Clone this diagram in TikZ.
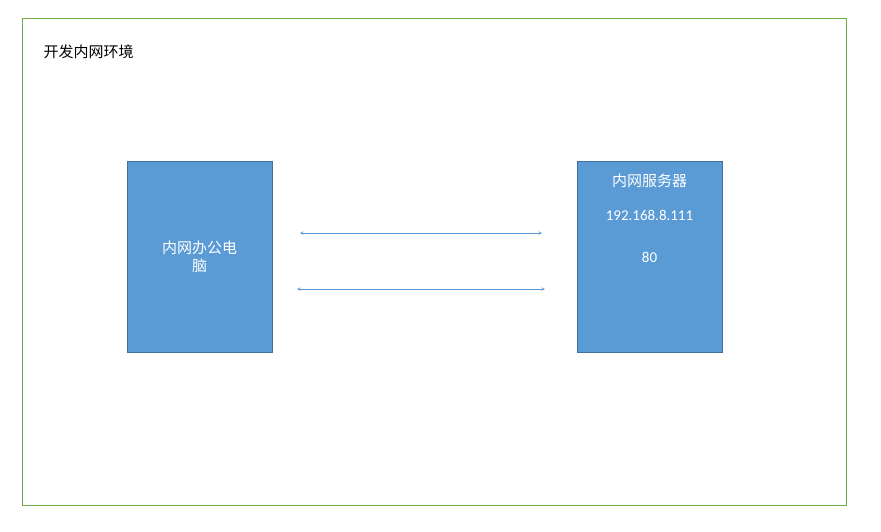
\documentclass[tikz,border=0pt]{standalone}
\usepackage{fontspec}
\setmainfont{Carlito}
\newfontfamily\cjk{Noto Sans CJK SC}
\definecolor{boxblue}{HTML}{5B9BD5}
\definecolor{boxedge}{HTML}{41719C}
\definecolor{framegreen}{HTML}{70AD47}
\tikzset{
    hostbox/.style={draw=boxedge, fill=boxblue, minimum width=145pt, minimum height=191pt, inner sep=0pt},
    hosttext/.style={text=white, font=\cjk\fontsize{15pt}{18pt}\selectfont, align=center},
    link/.style={draw=boxblue, <->, >=stealth, line width=0.6pt}
}
\begin{document}
\begin{tikzpicture}[x=1pt,y=-1pt]

		\useasboundingbox (0,0) rectangle (881,531);
		\draw [framegreen, line width=0.6pt] (22,18) rectangle (846,505);
		\node (title) at (40,52) [anchor=west, font=\cjk\fontsize{15pt}{18pt}\selectfont] {开发内网环境};

		\node (pc) at (199.5,256.5) [hostbox] {};
		\node (srv) at (649.5,256.5) [hostbox] {};
		\node (pcname) at (pc.center) [hosttext] {内网办公电\\脑};
		\node (srvname) at (649.5,181) [hosttext] {内网服务器};
		\node (srvip) at (649.5,215) [hosttext, font=\fontsize{15pt}{18pt}\selectfont] {192.168.8.111};
		\node (srvport) at (649.5,257) [hosttext, font=\fontsize{15pt}{18pt}\selectfont] {80};

		\coordinate (a1) at (300,233);
		\coordinate (b1) at (542,233);
		\coordinate (a2) at (297,289);
		\coordinate (b2) at (545,289);
		\draw [link] (a1) -- (b1);
		\draw [link] (a2) -- (b2);
	\end{tikzpicture}
\end{document}
